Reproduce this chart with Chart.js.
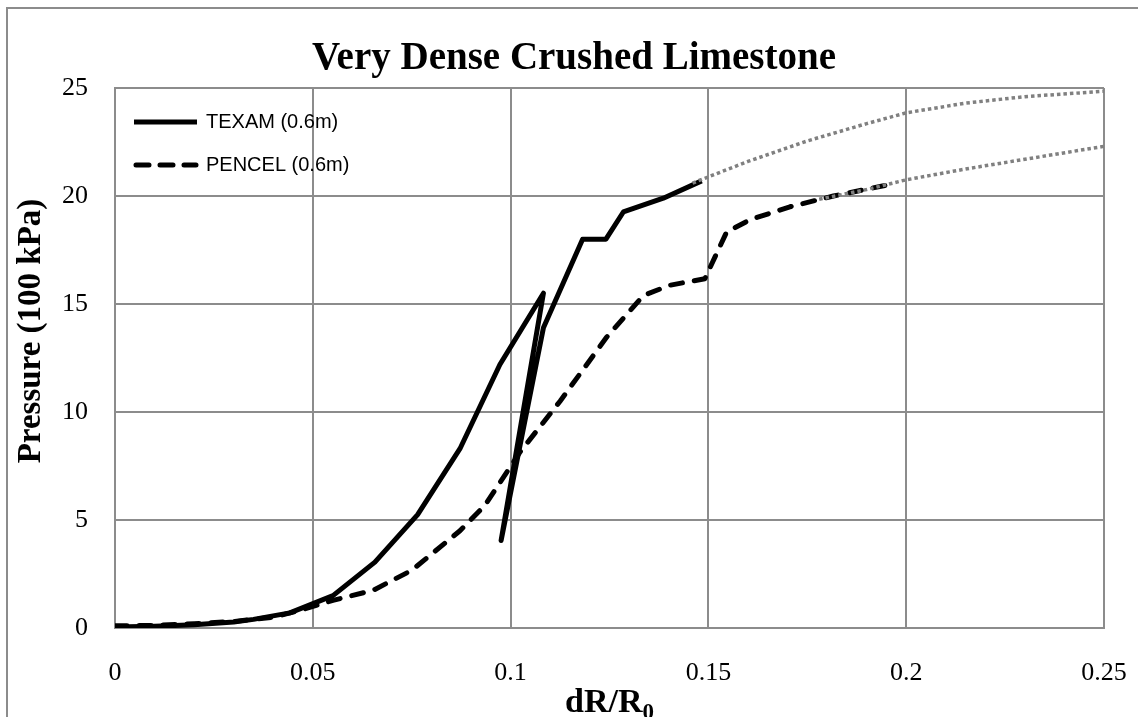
<!DOCTYPE html>
<html>
<head>
<meta charset="utf-8">
<script src="https://cdn.jsdelivr.net/npm/chart.js@4/dist/chart.umd.min.js"></script>
<style>
  html, body { margin: 0; padding: 0; background: #fff; }
  #wrap { width: 1138px; height: 717px; }
</style>
</head>
<body>
<div id="wrap"><canvas id="chart" width="1138" height="717"></canvas></div>
<script>
// values
const texamX = [0, 0.01, 0.02, 0.03, 0.035, 0.0442, 0.0551, 0.0657, 0.0765, 0.0872, 0.0973, 0.1083, 0.0976, 0.1083, 0.1182, 0.1241, 0.1285, 0.1386, 0.1483];
const texamY = [0.05, 0.08, 0.15, 0.28, 0.4, 0.7, 1.5, 3.05, 5.25, 8.3, 12.2, 15.5, 4.05, 13.9, 18.0, 18.0, 19.26, 19.9, 20.7];

const pencelX = [0, 0.01, 0.02, 0.03, 0.04, 0.0468, 0.0551, 0.0652, 0.075, 0.0872, 0.0935, 0.1024, 0.1125, 0.1243, 0.1336, 0.1403, 0.1491, 0.1546, 0.1605, 0.1706, 0.1816, 0.195];
const pencelY = [0.1, 0.12, 0.2, 0.3, 0.5, 0.82, 1.28, 1.74, 2.67, 4.5, 5.68, 8.15, 10.5, 13.47, 15.4, 15.87, 16.17, 18.33, 18.9, 19.5, 20.0, 20.5];

// gray dotted trend lines
const trendTexamX = [0.146, 0.16, 0.175, 0.19, 0.2, 0.215, 0.23, 0.25];
const trendTexamY = [20.6, 21.6, 22.55, 23.35, 23.85, 24.3, 24.6, 24.85];
const trendPencelX = [0.178, 0.19, 0.2, 0.215, 0.23, 0.25];
const trendPencelY = [19.85, 20.3, 20.75, 21.25, 21.7, 22.3];

const xTickLabels = ['0', '0.05', '0.1', '0.15', '0.2', '0.25'];
const yTickLabels = ['0', '5', '10', '15', '20', '25'];

const seriesNames = ['TEXAM (0.6m)', 'PENCEL (0.6m)'];
const chartTitle = 'Very Dense Crushed Limestone';
const yTitle = 'Pressure (100 kPa)';

function pts(xs, ys) {
    return xs.map((x, i) => ({ x: x, y: ys[i] }));
}

const GRID = '#8c8c8c';
const TREND = '#808080';
const SERIF = '"Liberation Serif", "Times New Roman", serif';
const SANS = '"Liberation Sans", Arial, sans-serif';
const DASH = [12, 12];

// frame, titles and the in-plot legend
const decor = {
    id: 'decor',
    beforeDraw(chart) {
        const ctx = chart.ctx;
        ctx.save();
        ctx.fillStyle = '#fff';
        ctx.fillRect(0, 0, chart.width, chart.height);
        ctx.strokeStyle = GRID;
        ctx.lineWidth = 2;
        ctx.beginPath();
        ctx.moveTo(7, chart.height + 2);
        ctx.lineTo(7, 8);
        ctx.lineTo(chart.width + 2, 8);
        ctx.stroke();
        ctx.restore();
    },
    afterDraw(chart) {
        const ctx = chart.ctx;
        const area = chart.chartArea;
        ctx.save();
        ctx.fillStyle = '#000';

        // chart title
        ctx.font = 'bold 39px ' + SERIF;
        ctx.textAlign = 'center';
        ctx.textBaseline = 'alphabetic';
        ctx.fillText(chartTitle, 574, 69);

        // x title with subscript
        ctx.font = 'bold 34px ' + SERIF;
        const main = 'dR/R';
        const mw = ctx.measureText(main).width;
        ctx.font = 'bold 23px ' + SERIF;
        const sw = ctx.measureText('0').width;
        const x0 = (area.left + area.right) / 2 - (mw + sw) / 2;
        ctx.textAlign = 'left';
        ctx.font = 'bold 34px ' + SERIF;
        ctx.fillText(main, x0, 712);
        ctx.font = 'bold 23px ' + SERIF;
        ctx.fillText('0', x0 + mw, 719);

        // y title
        ctx.translate(31, 331);
        ctx.rotate(-Math.PI / 2);
        ctx.font = 'bold 33px ' + SERIF;
        ctx.textAlign = 'center';
        ctx.textBaseline = 'middle';
        ctx.fillText(yTitle, 0, 0);
        ctx.setTransform(1, 0, 0, 1, 0, 0);

        // legend
        ctx.strokeStyle = '#000';
        ctx.lineWidth = 5;
        ctx.beginPath();
        ctx.moveTo(134, 122);
        ctx.lineTo(197, 122);
        ctx.stroke();
        ctx.lineCap = 'round';
        ctx.setLineDash([13, 11]);
        ctx.beginPath();
        ctx.moveTo(136, 165);
        ctx.lineTo(196, 165);
        ctx.stroke();
        ctx.setLineDash([]);
        ctx.font = '20px ' + SANS;
        ctx.textAlign = 'left';
        ctx.textBaseline = 'middle';
        ctx.fillText(seriesNames[0], 206, 122);
        ctx.fillText(seriesNames[1], 206, 165);
        ctx.restore();
    }
};

new Chart(document.getElementById('chart'), {
    type: 'scatter',
    data: {
        datasets: [
            {
                label: 'trend texam',
                data: pts(trendTexamX, trendTexamY),
                showLine: true,
                borderColor: TREND,
                borderWidth: 3.5,
                borderDash: [3.5, 3],
                pointRadius: 0,
                order: 0
            },
            {
                label: 'trend pencel',
                data: pts(trendPencelX, trendPencelY),
                showLine: true,
                borderColor: TREND,
                borderWidth: 3.5,
                borderDash: [3.5, 3],
                pointRadius: 0,
                order: 0
            },
            {
                label: seriesNames[0],
                data: pts(texamX, texamY),
                showLine: true,
                borderColor: '#000',
                borderWidth: 5,
                borderJoinStyle: 'round',
                pointRadius: 0,
                order: 1
            },
            {
                label: seriesNames[1],
                data: pts(pencelX, pencelY),
                showLine: true,
                borderColor: '#000',
                borderWidth: 5,
                borderDash: DASH,
                borderCapStyle: 'round',
                borderJoinStyle: 'round',
                pointRadius: 0,
                order: 1
            }
        ]
    },
    options: {
        responsive: false,
        animation: false,
        layout: { padding: { top: 88, right: 34, left: 0, bottom: 0 } },
        plugins: {
            legend: { display: false },
            title: { display: false },
            tooltip: { enabled: false }
        },
        scales: {
            x: {
                type: 'linear',
                min: 0,
                max: 0.25,
                afterFit(scale) {
                    scale.height = 89;
                    scale.paddingLeft = 0;
                    scale.paddingRight = 0;
                },
                grid: { color: GRID, lineWidth: 2, drawTicks: false },
                border: { color: GRID, width: 2 },
                ticks: {
                    stepSize: 0.05,
                    padding: 30,
                    color: '#000',
                    font: { family: SERIF, size: 26 },
                    maxRotation: 0,
                    callback: (v, i) => xTickLabels[i]
                }
            },
            y: {
                min: 0,
                max: 25,
                afterFit(scale) {
                    scale.width = 115;
                    scale.paddingTop = 0;
                    scale.paddingBottom = 0;
                },
                grid: { color: GRID, lineWidth: 2, drawTicks: false },
                border: { color: GRID, width: 2 },
                ticks: {
                    stepSize: 5,
                    padding: 27,
                    color: '#000',
                    font: { family: SERIF, size: 26 },
                    callback: (v, i) => yTickLabels[i]
                }
            }
        }
    },
    plugins: [decor]
});
</script>
</body>
</html>
